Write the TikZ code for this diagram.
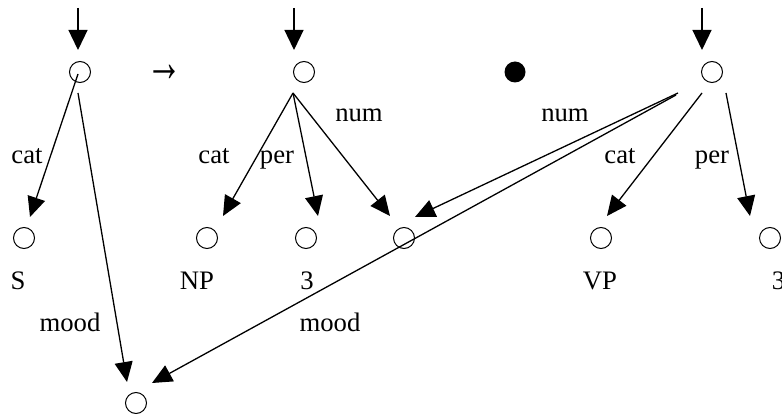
\documentclass[tikz,border=0pt]{standalone}
\usepackage{fontspec}
\setmainfont{Liberation Serif}
\usetikzlibrary{arrows.meta}
\begin{document}
\begin{tikzpicture}[x=1pt,y=-1pt,
  every node/.style={font=\fontsize{26.7}{30}\selectfont},
  hollow/.style={circle,draw,line width=1pt,minimum size=21pt,inner sep=0pt},
  soliddot/.style={circle,fill,minimum size=21pt,inner sep=0pt},
  lab/.style={anchor=base,inner sep=0pt},
  edge/.style={line width=1.3pt,-{Triangle[length=20pt,width=18pt]}},
  topedge/.style={line width=1.3pt,-{Triangle[length=20pt,width=19pt]}}]
\useasboundingbox (0,0) rectangle (782,414);
% nodes
\node[hollow] (A) at (80,72) {};
\node[hollow] (B) at (304,72) {};
\node[soliddot] (D) at (515,72) {};
\node[hollow] (C) at (712,72) {};
\node[hollow] (S) at (24,238) {};
\node[hollow] (NP) at (207,238) {};
\node[hollow] (T1) at (306,238) {};
\node[hollow] (N) at (404,238) {};
\node[hollow] (VP) at (601,238) {};
\node[hollow] (T2) at (770,238) {};
\node[hollow] (M) at (136,403) {};
\node[inner sep=0pt,font=\fontsize{36}{40}\selectfont] (arr) at (164,73) {\scalebox{1}[1.6]{→}};
% value labels
\node[lab] (lS) at (18,290) {S};
\node[lab] (lNP) at (197,290) {NP};
\node[lab] (l3a) at (307,290) {3};
\node[lab] (lVP) at (600,290) {VP};
\node[lab] (l3b) at (778.5,290) {3};
% edge labels
\node[lab] (e1) at (27,164) {cat};
\node[lab] (e2) at (214,164) {cat};
\node[lab] (e3) at (277,164) {per};
\node[lab] (e4) at (620,164) {cat};
\node[lab] (e5) at (712,164) {per};
\node[lab] (e6) at (359,122) {num};
\node[lab] (e7) at (565,122) {num};
\node[lab] (e8) at (70,331) {mood};
\node[lab] (e9) at (330,331) {mood};
% connector end points
\coordinate (tA) at (78,8);   \coordinate (hA) at (78,50);
\coordinate (tB) at (294,8);  \coordinate (hB) at (294,50);
\coordinate (tC) at (702,8);  \coordinate (hC) at (702,50);
\coordinate (A1) at (78,74);  \coordinate (A2) at (78,93);
\coordinate (B1) at (293,93);
\coordinate (C1) at (678,93); \coordinate (C2) at (676,95);
\coordinate (C3) at (702,93); \coordinate (C4) at (726,93);
\coordinate (pS) at (30,217);
\coordinate (pM1) at (127,382);
\coordinate (pNP) at (223,216);
\coordinate (pT1) at (318,216);
\coordinate (pN1) at (390,216);
\coordinate (pN2) at (415,217);
\coordinate (pM2) at (152,383);
\coordinate (pVP) at (607,216);
\coordinate (pT2) at (750,216);
% connectors
\draw[topedge] (tA) -- (hA);
\draw[topedge] (tB) -- (hB);
\draw[topedge] (tC) -- (hC);
\draw[edge] (A1) -- (pS);
\draw[edge] (A2) -- (pM1);
\draw[edge] (B1) -- (pNP);
\draw[edge] (B1) -- (pT1);
\draw[edge] (B1) -- (pN1);
\draw[edge] (C1) -- (pN2);
\draw[edge] (C2) -- (pM2);
\draw[edge] (C3) -- (pVP);
\draw[edge] (C4) -- (pT2);
\end{tikzpicture}
\end{document}
